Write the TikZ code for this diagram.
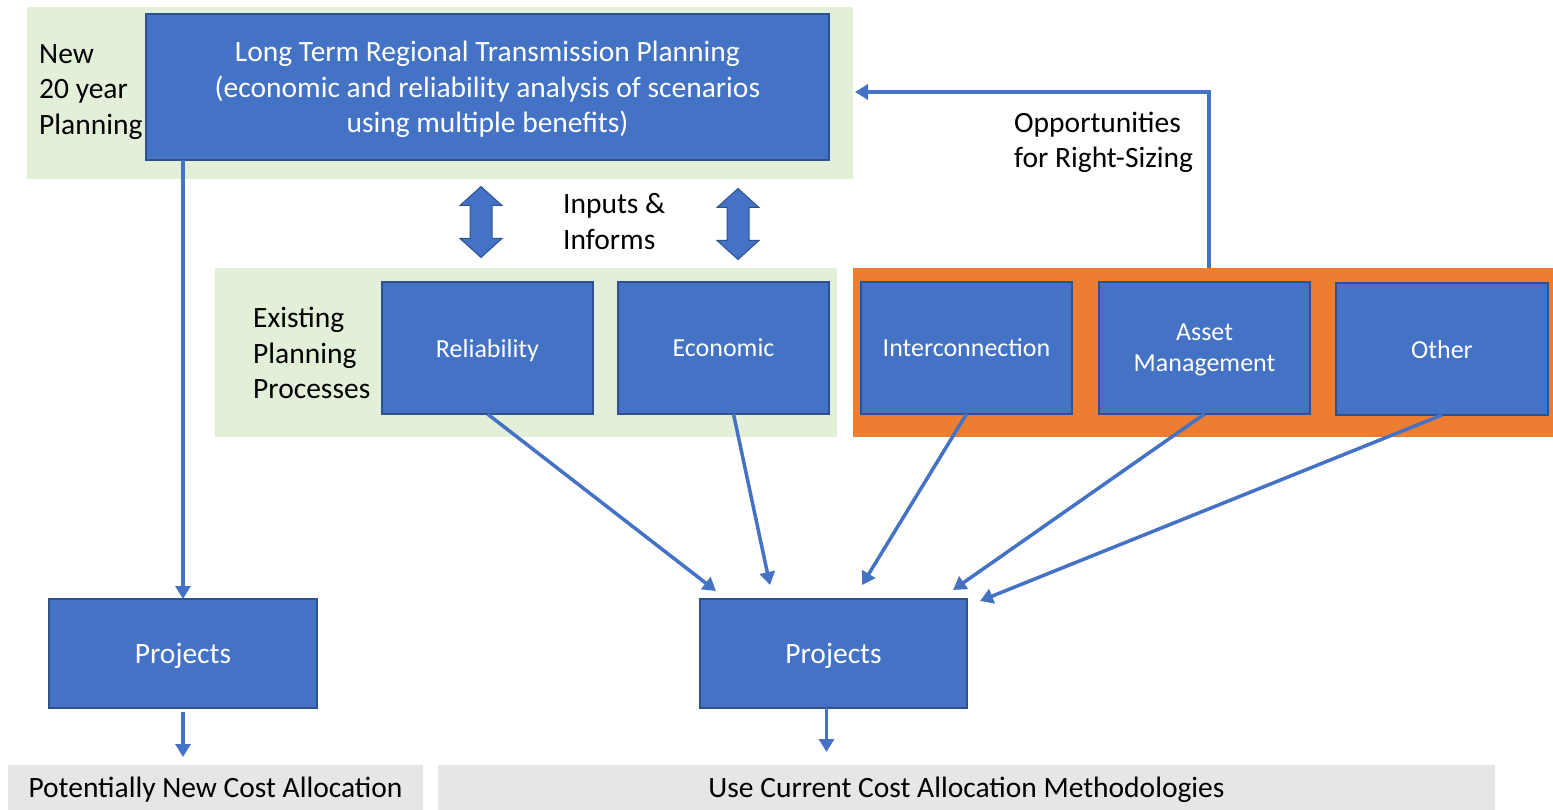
\documentclass[tikz,border=0pt]{standalone}
\usepackage{fontspec}
\setmainfont{Carlito}
\usetikzlibrary{arrows.meta,calc}
\definecolor{boxblue}{HTML}{4472C4}
\definecolor{boxedge}{HTML}{2F528F}
\definecolor{bandgreen}{HTML}{E2F0D9}
\definecolor{bandorange}{HTML}{ED7D31}
\definecolor{allocgray}{HTML}{E7E6E6}

\begin{document}
\begin{tikzpicture}[x=1pt,y=-1pt,
                plan/.style={fill=boxblue,draw=boxedge,line width=1.5pt,text=white,align=center},
                dblarr/.style={fill=boxblue,draw=boxedge,line width=1pt,line join=miter}]
                \useasboundingbox (0,0) rectangle (1553,810);
                \begin{scope}[every node/.style={draw=none,inner sep=0pt,outer sep=0pt,text depth=0pt}]
                        \node[fill=bandgreen,minimum width=826pt,minimum height=172pt] (newband) at (440,93) {};
                        \node[fill=bandgreen,minimum width=622pt,minimum height=169pt] (oldband) at (526,352.5) {};
                        \node[fill=bandorange,minimum width=700pt,minimum height=169pt] (othband) at (1203,352.5) {};
                        \node[fill=allocgray,minimum width=415pt,minimum height=45pt,font=\fontsize{29.5}{35.5}\selectfont] (cnew) at (215.5,787.5) {Potentially New Cost Allocation};
                        \node[fill=allocgray,minimum width=1057pt,minimum height=45pt,font=\fontsize{29.5}{35.5}\selectfont] (ccur) at (966.5,787.5) {Use Current Cost Allocation Methodologies};
                \end{scope}
                \begin{scope}[every node/.style={plan,inner sep=0pt,outer sep=0pt,text depth=0pt,font=\fontsize{26}{31}\selectfont}]
                        \node[minimum width=683pt,minimum height=146pt,font=\fontsize{29.5}{35.5}\selectfont] (ltp) at (487.5,87)
                                {Long Term Regional Transmission Planning\\(economic and reliability analysis of scenarios\\using multiple benefits)};
                        \node[minimum width=211pt,minimum height=132pt] (rel) at (487.5,348) {Reliability};
                        \node[minimum width=211pt,minimum height=132pt] (eco) at (723.5,348) {Economic};
                        \node[minimum width=211pt,minimum height=132pt] (int) at (966.5,348) {Interconnection};
                        \node[minimum width=211pt,minimum height=132pt] (am) at (1204.5,348) {Asset\\Management};
                        \node[minimum width=212pt,minimum height=132pt] (oth) at (1442,349) {Other};
                        \node[minimum width=268pt,minimum height=109pt,font=\fontsize{29.5}{35.5}\selectfont] (prjL) at (183,653.5) {Projects};
                        \node[minimum width=267pt,minimum height=109pt,font=\fontsize{29.5}{35.5}\selectfont] (prjR) at (833.5,653.5) {Projects};
                \end{scope}
                \coordinate (ioL) at (481,222);
                \coordinate (ioR) at (738,224);
                \foreach \io in {ioL,ioR}
                        \filldraw[dblarr] (\io) ++(0,-35.5) -- ++(21,19) -- ++(-10,0) -- ++(0,33) -- ++(10,0) -- ++(-21,19)
                                -- ++(-21,-19) -- ++(10,0) -- ++(0,-33) -- ++(-10,0) -- cycle;
                \begin{scope}[every node/.style={inner sep=0pt,anchor=west,align=left,font=\fontsize{29.5}{35.5}\selectfont}]
                        \node (newlbl) at (39,92) {New\\20 year\\Planning};
                        \node (iolbl) at (563,221.5) {Inputs \&\\Informs};
                        \node (oldlbl) at (253,353) {Existing\\Planning\\Processes};
                        \node (rslbl) at (1014,142.5) {Opportunities\\for Right-Sizing};
                \end{scope}
                \coordinate (rsz) at (1209,268);
                \coordinate (rszend) at (855,92);
                \begin{scope}[every path/.style={line width=3.5pt,color=boxblue,-{Triangle[width=15pt,length=13pt]}}]
                        \path (prjL.north |- ltp.south) edge (prjL.north);
                        \path (prjL.south) edge [shorten <=4pt,shorten >=8pt] (prjL.south |- cnew.north);
                        \path ($(prjR.south)+(-7,0)$) edge [shorten >=13pt] ($(prjR.south |- ccur.north)+(-7,0)$);
                        \path (rsz) edge [to path={|- (\tikztotarget)}] (rszend);
                        \path (rel.south) edge ($(prjR.north west)+(16,-8)$);
                        \path ($(eco.south)+(10,0)$) edge ($(prjR.north west)+(70,-14)$);
                        \path (int.south) edge ($(prjR.north west)+(162,-14)$);
                        \path (am.south) edge ($(prjR.north west)+(253,-9)$);
                        \path (oth.south) edge ($(prjR.north west)+(280,2)$);
                \end{scope}
        \end{tikzpicture}
\end{document}
